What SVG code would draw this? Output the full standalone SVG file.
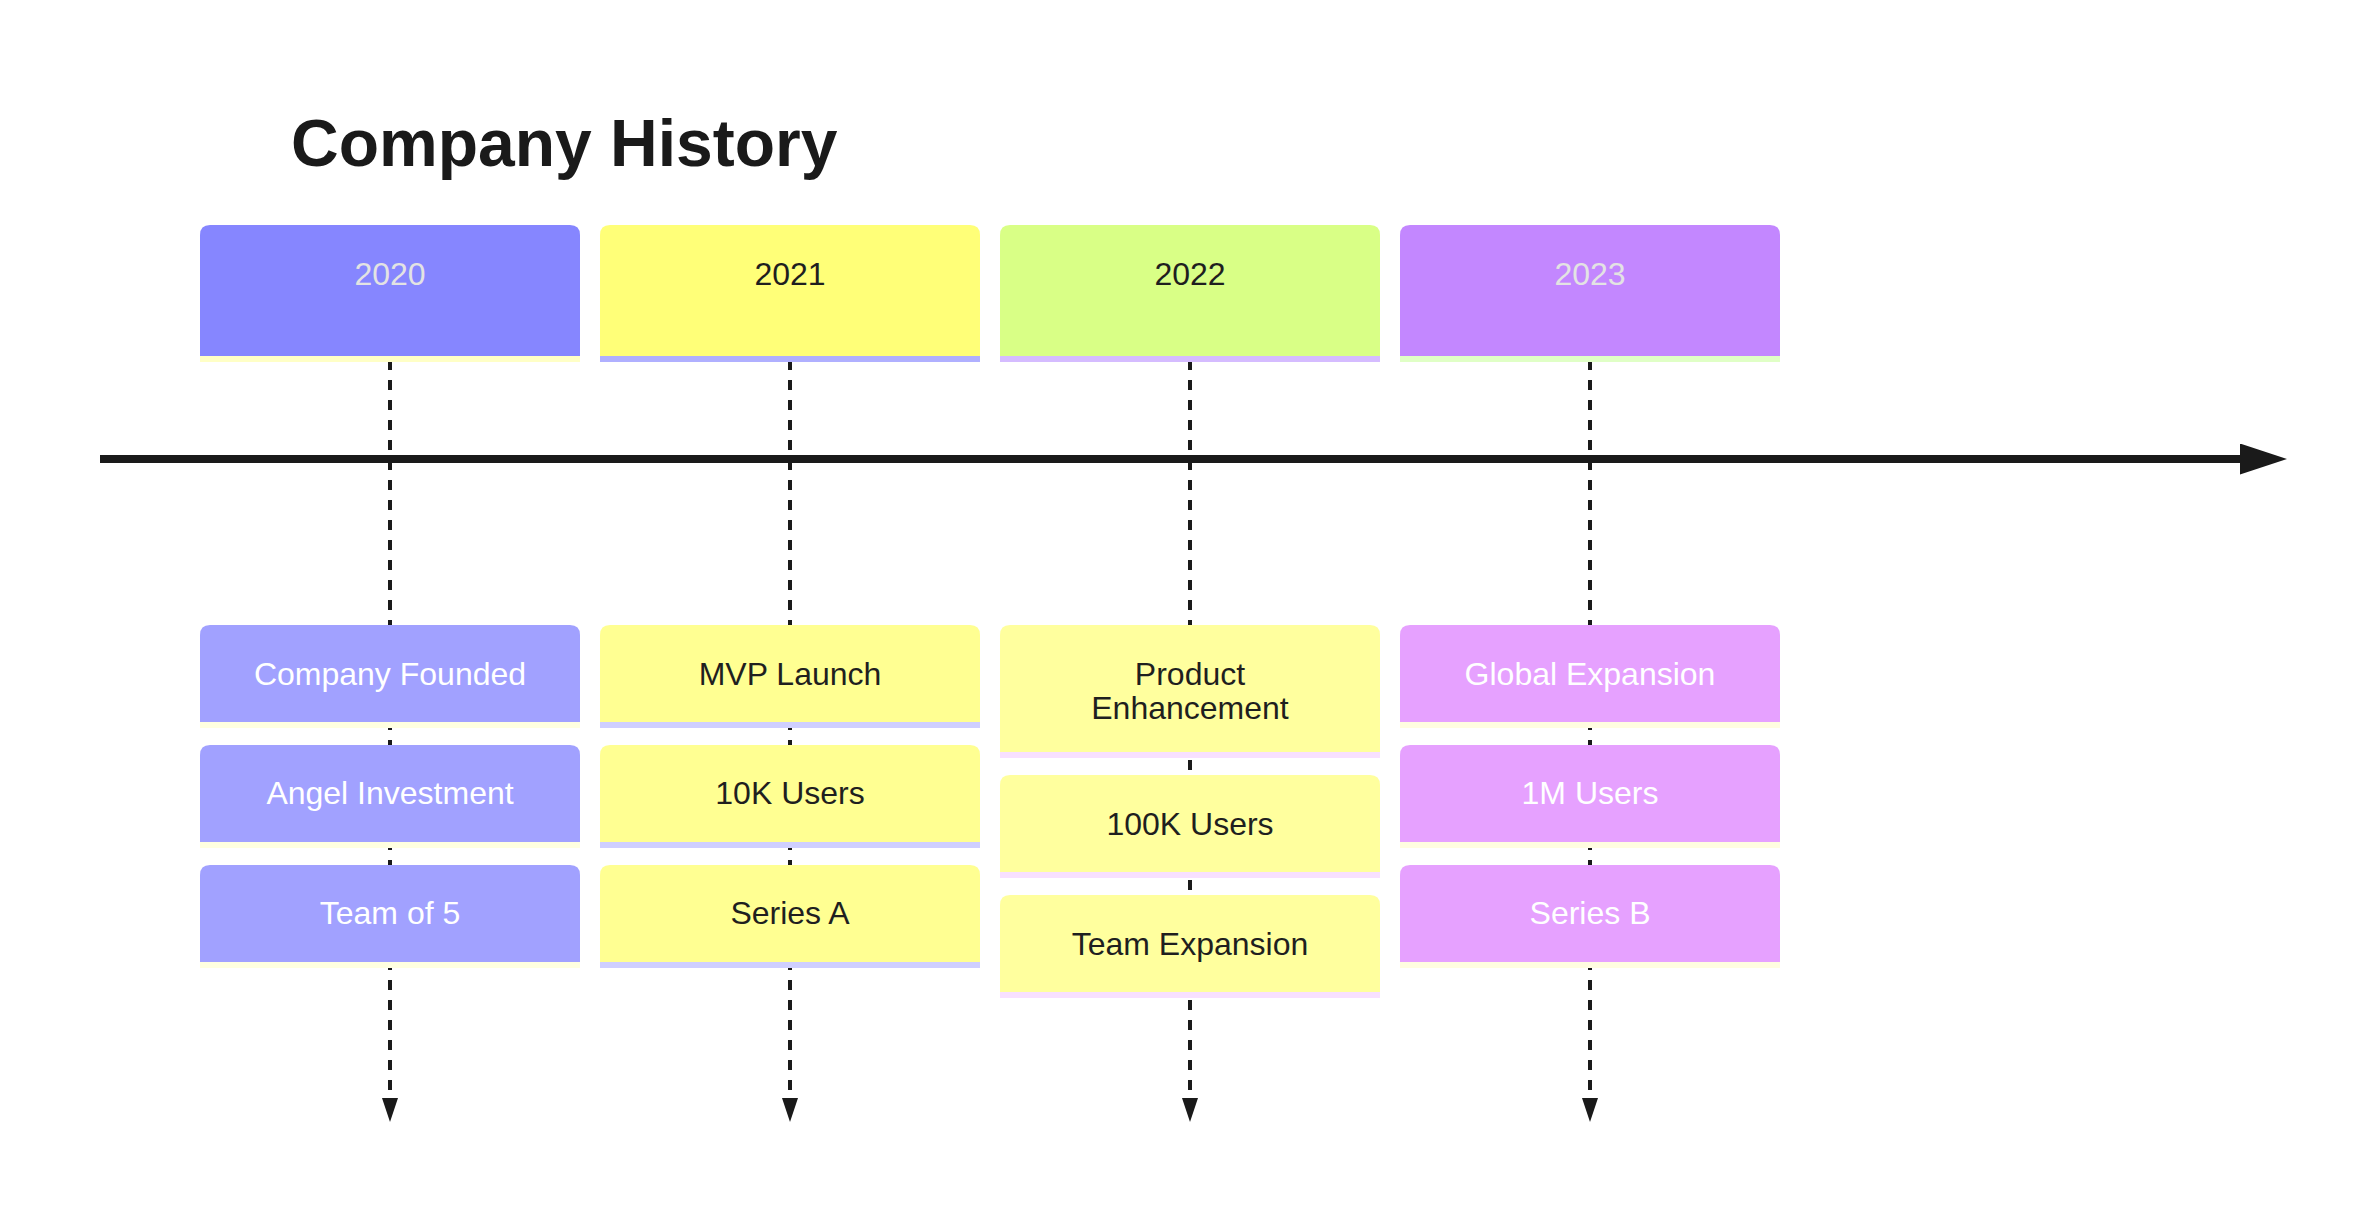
<svg xmlns="http://www.w3.org/2000/svg" width="2380" height="1218" viewBox="0 0 2380 1218">
<style>
text{font-family:"Liberation Sans",Arial,Helvetica,sans-serif;font-size:32px;text-anchor:middle}
.title{font-size:66px;font-weight:bold;text-anchor:start;fill:#1a1a1a}
.dash{stroke:#1a1a1a;stroke-width:4;stroke-dasharray:10 10;fill:none}
.main{stroke:#1a1a1a;stroke-width:8;fill:none}
.stripe{stroke-width:6}
.light{fill:#ffffff}
.lgray{fill:#e3e3e3}
.dark{fill:#1f1f1f}
</style>
<defs>
<marker id="arrowDown" markerUnits="userSpaceOnUse" markerWidth="24" markerHeight="16" refX="0" refY="8" orient="auto" viewBox="0 0 24 16">
<path d="M0,0 L24,8 L0,16 z" fill="#1a1a1a"/>
</marker>
<marker id="arrowMain" markerUnits="userSpaceOnUse" markerWidth="47" markerHeight="31" refX="0" refY="15.5" orient="auto" viewBox="0 0 47 31">
<path d="M0,0 L47,15.5 L0,31 z" fill="#1a1a1a"/>
</marker>
</defs>
<rect width="2380" height="1218" fill="#ffffff"/>
<text class="title" x="291" y="166">Company History</text>
<g id="connectors">
<line class="dash" x1="390" y1="360" x2="390" y2="1098" marker-end="url(#arrowDown)"/>
<line class="dash" x1="790" y1="360" x2="790" y2="1098" marker-end="url(#arrowDown)"/>
<line class="dash" x1="1190" y1="360" x2="1190" y2="1098" marker-end="url(#arrowDown)"/>
<line class="dash" x1="1590" y1="360" x2="1590" y2="1098" marker-end="url(#arrowDown)"/>
<line class="main" x1="100" y1="459" x2="2240" y2="459" marker-end="url(#arrowMain)"/>
</g>
<g id="section-2020">
<path d="M200,356 V235 Q200,225 210,225 H570 Q580,225 580,235 V356 Z" fill="#8686ff"/>
<line class="stripe" x1="200" y1="359" x2="580" y2="359" stroke="#ffffc6"/>
<text class="lgray" x="390" y="285">2020</text>
</g>
<g id="section-2021">
<path d="M600,356 V235 Q600,225 610,225 H970 Q980,225 980,235 V356 Z" fill="#ffff78"/>
<line class="stripe" x1="600" y1="359" x2="980" y2="359" stroke="#b0b0ff"/>
<text class="dark" x="790" y="285">2021</text>
</g>
<g id="section-2022">
<path d="M1000,356 V235 Q1000,225 1010,225 H1370 Q1380,225 1380,235 V356 Z" fill="#d9ff86"/>
<line class="stripe" x1="1000" y1="359" x2="1380" y2="359" stroke="#d5bcff"/>
<text class="dark" x="1190" y="285">2022</text>
</g>
<g id="section-2023">
<path d="M1400,356 V235 Q1400,225 1410,225 H1770 Q1780,225 1780,235 V356 Z" fill="#c387ff"/>
<line class="stripe" x1="1400" y1="359" x2="1780" y2="359" stroke="#e0ffc6"/>
<text class="lgray" x="1590" y="285">2023</text>
</g>
<g id="event-company-founded">
<path d="M200,722 V635 Q200,625 210,625 H570 Q580,625 580,635 V722 Z" fill="#a1a1ff"/>
<line class="stripe" x1="200" y1="725" x2="580" y2="725" stroke="#ffffe0"/>
<text class="light" x="390" y="685">Company Founded</text>
</g>
<g id="event-angel-investment">
<path d="M200,842 V755 Q200,745 210,745 H570 Q580,745 580,755 V842 Z" fill="#a1a1ff"/>
<line class="stripe" x1="200" y1="845" x2="580" y2="845" stroke="#ffffe0"/>
<text class="light" x="390" y="804">Angel Investment</text>
</g>
<g id="event-team-of-5">
<path d="M200,962 V875 Q200,865 210,865 H570 Q580,865 580,875 V962 Z" fill="#a1a1ff"/>
<line class="stripe" x1="200" y1="965" x2="580" y2="965" stroke="#ffffe0"/>
<text class="light" x="390" y="924">Team of 5</text>
</g>
<g id="event-mvp-launch">
<path d="M600,722 V635 Q600,625 610,625 H970 Q980,625 980,635 V722 Z" fill="#ffff92"/>
<line class="stripe" x1="600" y1="725" x2="980" y2="725" stroke="#cfcfff"/>
<text class="dark" x="790" y="685">MVP Launch</text>
</g>
<g id="event-10k-users">
<path d="M600,842 V755 Q600,745 610,745 H970 Q980,745 980,755 V842 Z" fill="#ffff92"/>
<line class="stripe" x1="600" y1="845" x2="980" y2="845" stroke="#cfcfff"/>
<text class="dark" x="790" y="804">10K Users</text>
</g>
<g id="event-series-a">
<path d="M600,962 V875 Q600,865 610,865 H970 Q980,865 980,875 V962 Z" fill="#ffff92"/>
<line class="stripe" x1="600" y1="965" x2="980" y2="965" stroke="#cfcfff"/>
<text class="dark" x="790" y="924">Series A</text>
</g>
<g id="event-product-enhancement">
<path d="M1000,752 V635 Q1000,625 1010,625 H1370 Q1380,625 1380,635 V752 Z" fill="#ffff9e"/>
<line class="stripe" x1="1000" y1="755" x2="1380" y2="755" stroke="#f8e0ff"/>
<text class="dark" x="1190" y="685">Product</text>
<text class="dark" x="1190" y="719">Enhancement</text>
</g>
<g id="event-100k-users">
<path d="M1000,872 V785 Q1000,775 1010,775 H1370 Q1380,775 1380,785 V872 Z" fill="#ffff9e"/>
<line class="stripe" x1="1000" y1="875" x2="1380" y2="875" stroke="#f8e0ff"/>
<text class="dark" x="1190" y="835">100K Users</text>
</g>
<g id="event-team-expansion">
<path d="M1000,992 V905 Q1000,895 1010,895 H1370 Q1380,895 1380,905 V992 Z" fill="#ffff9e"/>
<line class="stripe" x1="1000" y1="995" x2="1380" y2="995" stroke="#f8e0ff"/>
<text class="dark" x="1190" y="955">Team Expansion</text>
</g>
<g id="event-global-expansion">
<path d="M1400,722 V635 Q1400,625 1410,625 H1770 Q1780,625 1780,635 V722 Z" fill="#e6a1ff"/>
<line class="stripe" x1="1400" y1="725" x2="1780" y2="725" stroke="#fffde0"/>
<text class="light" x="1590" y="685">Global Expansion</text>
</g>
<g id="event-1m-users">
<path d="M1400,842 V755 Q1400,745 1410,745 H1770 Q1780,745 1780,755 V842 Z" fill="#e6a1ff"/>
<line class="stripe" x1="1400" y1="845" x2="1780" y2="845" stroke="#fffde0"/>
<text class="light" x="1590" y="804">1M Users</text>
</g>
<g id="event-series-b">
<path d="M1400,962 V875 Q1400,865 1410,865 H1770 Q1780,865 1780,875 V962 Z" fill="#e6a1ff"/>
<line class="stripe" x1="1400" y1="965" x2="1780" y2="965" stroke="#fffde0"/>
<text class="light" x="1590" y="924">Series B</text>
</g>
</svg>
